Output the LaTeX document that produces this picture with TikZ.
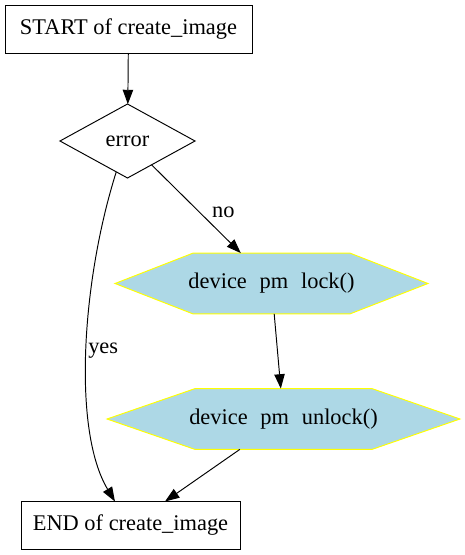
\documentclass[tikz,border=0pt]{standalone}
\usepackage{fontspec}
\setmainfont{Liberation Serif}
\usetikzlibrary{shapes.geometric,arrows.meta,calc,backgrounds}
\definecolor{hexfill}{HTML}{ADD8E6}
\definecolor{hexline}{HTML}{FFFF00}
\tikzset{
  every node/.style={font=\fontsize{14}{16}\selectfont, outer sep=0pt},
  termbox/.style={draw, line width=0.6pt, rectangle, inner sep=0pt, minimum width=#1, minimum height=30pt},
  decision/.style={draw, line width=0.6pt, diamond, inner sep=0pt, minimum width=84.4pt, minimum height=46.25pt},
  hexcore/.style={rectangle, inner sep=0pt, minimum height=38pt},
  hexshape/.style={fill=hexfill, draw=hexline, line width=0.6pt},
  conn/.style={draw, line width=0.6pt, -{Triangle[length=9pt,width=6.5pt]}},
  lbl/.style={inner sep=1pt}
}
\newcommand{\hgap}{\hspace{0.57em}}
\begin{document}
\begin{tikzpicture}[x=0.625pt, y=-0.625pt]
\useasboundingbox (0,0) rectangle (464,555);
\node[termbox=154.4pt] (start) at (128.5,29) {START of create\_image};
\node[decision] (error) at (127.5,141) {error};
\node[hexcore, minimum width=98.1pt] (lock) at (271.5,283.5) {\makebox[0pt]{device\hgap pm\hgap lock()}};
\node[hexcore, minimum width=110.6pt] (unlock) at (283.5,419) {\makebox[0pt]{device\hgap pm\hgap unlock()}};
\node[termbox=136.9pt] (end) at (130.5,525.5) {END of create\_image};
\begin{scope}[on background layer]
\draw[hexshape] (lock.north west) -- (lock.north east) -- ($(lock.east)+(78,0)$) -- (lock.south east) -- (lock.south west) -- ($(lock.west)+(-78,0)$) -- cycle;
\draw[hexshape] (unlock.north west) -- (unlock.north east) -- ($(unlock.east)+(88,0)$) -- (unlock.south east) -- (unlock.south west) -- ($(unlock.west)+(-88,0)$) -- cycle;
\end{scope}
\draw[conn] (start) -- (error);
\draw[conn] (error) -- (lock) node[lbl, pos=0.5, xshift=17pt, yshift=-2pt] {no};
\draw[conn] (error.250) .. controls (82,280) and (72,430) .. ([xshift=-9.7pt]end.north) node[lbl, pos=0.5, anchor=west] {yes};
\draw[conn] (lock) -- (unlock);
\draw[conn] (unlock) -- (end);
\end{tikzpicture}
\end{document}
